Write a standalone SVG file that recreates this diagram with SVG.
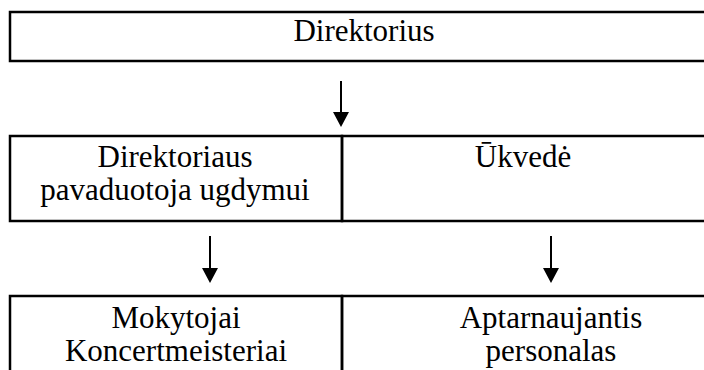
<svg xmlns="http://www.w3.org/2000/svg" width="704" height="370" viewBox="0 0 704 370">
<style>
.box{fill:none;stroke:#000;stroke-width:2.5}
.t{font-family:"Liberation Serif","Times New Roman",serif;font-size:31px;fill:#000;text-anchor:middle}
.c{stroke:#000;stroke-width:2;fill:none}
.ah{fill:#000}
</style>
<g id="n-direktorius">
<rect class="box" x="10" y="12" width="720" height="49"/>
<text class="t" x="364" y="41">Direktorius</text>
</g>
<g id="n-pavaduotoja">
<rect class="box" x="10" y="136" width="332" height="85"/>
<text class="t" x="175" y="167">Direktoriaus</text>
<text class="t" x="175" y="200">pavaduotoja ugdymui</text>
</g>
<g id="n-ukvede">
<rect class="box" x="342" y="136" width="380" height="85"/>
<text class="t" x="523" y="167">Ūkvedė</text>
</g>
<g id="n-mokytojai">
<rect class="box" x="10" y="296" width="332" height="90"/>
<text class="t" x="176" y="328">Mokytojai</text>
<text class="t" x="176" y="361">Koncertmeisteriai</text>
</g>
<g id="n-aptarnaujantis">
<rect class="box" x="342" y="296" width="380" height="90"/>
<text class="t" x="551" y="328">Aptarnaujantis</text>
<text class="t" x="551" y="361">personalas</text>
</g>
<g id="connectors">
<line class="c" x1="341" y1="81" x2="341" y2="112"/>
<path class="ah" d="M333,112 L349,112 L341,127 Z"/>
<line class="c" x1="210" y1="236" x2="210" y2="268"/>
<path class="ah" d="M202,268 L218,268 L210,283 Z"/>
<line class="c" x1="551" y1="236" x2="551" y2="268"/>
<path class="ah" d="M543,268 L559,268 L551,283 Z"/>
</g>
</svg>
